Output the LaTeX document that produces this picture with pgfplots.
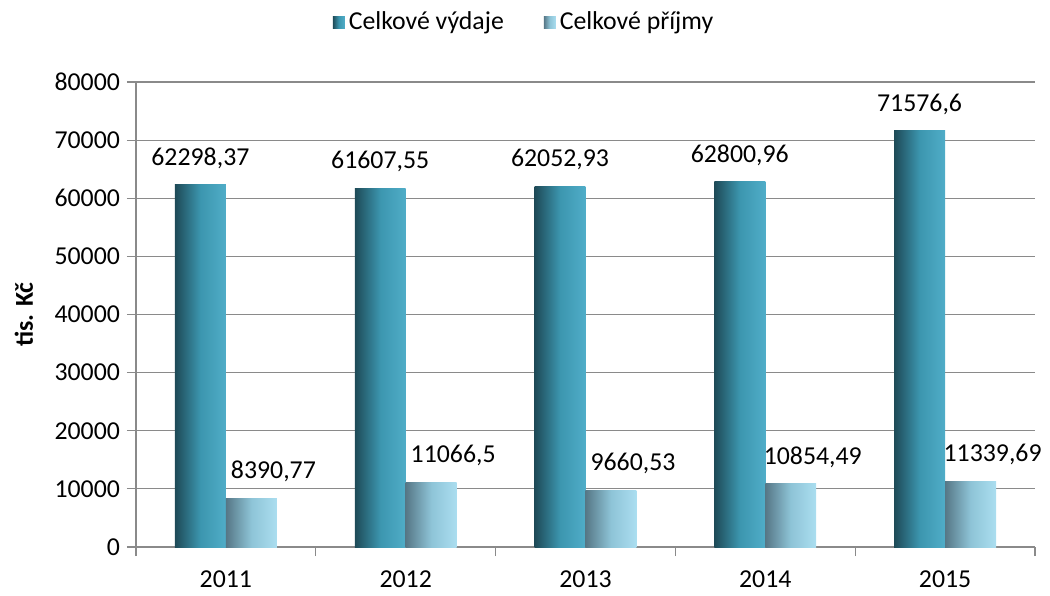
\documentclass[border=0pt]{standalone}
\usepackage{fontspec}
\setmainfont{Carlito}
\usepackage{pgfplots}
\pgfplotsset{compat=1.18}

\definecolor{vydD}{HTML}{1E4A57}
\definecolor{vydM}{HTML}{3C96AF}
\definecolor{vydL}{HTML}{50ADC8}
\definecolor{prD}{HTML}{567786}
\definecolor{prM}{HTML}{8EC4D7}
\definecolor{prL}{HTML}{ABDEF0}
\definecolor{gridgray}{HTML}{8A8A8A}

% each bar is its own plot so that the cylinder shading is per bar
\pgfplotsset{
  sqlegend/.style={legend image code/.code={\path[##1] (0pt,-0.3em) rectangle (0.6em,0.3em);}},
  vyd/.style={ybar, bar shift=-0.14165, draw=none, left color=vydD, right color=vydL, middle color=vydM, sqlegend,
    nodes near coords style={xshift=-12.75pt}},
  pri/.style={ybar, bar shift=0.14165, draw=none, left color=prD, right color=prL, middle color=prM, sqlegend,
    nodes near coords style={xshift=23.75pt}},
}

\begin{document}
\begin{tikzpicture}[font=\fontsize{12.9}{15}\selectfont]
\useasboundingbox (-68pt,-24pt) rectangle (457pt,273.5pt);
\begin{axis}[
  at={(0,0)}, anchor=south west,
  scale only axis,
  width=449.5pt, height=232.5pt,
  bar width=0.2833,
  xmin=-0.5, xmax=4.5,
  ymin=0, ymax=80000,
  ytick={0,10000,...,80000},
  scaled y ticks=false,
  /pgf/number format/1000 sep={},
  /pgf/number format/assume math mode=true,
  xtick={-0.5,0.5,...,4.5},
  xticklabels={},
  extra x ticks={0,1,2,3,4},
  extra x tick labels={2011,2012,2013,2014,2015},
  extra x tick style={major tick length=0pt},
  tick align=outside,
  major tick length=4.5pt,
  tick style={draw=gridgray, line width=0.6pt},
  ymajorgrids,
  grid style={draw=gridgray, line width=0.6pt},
  axis x line*=bottom, axis y line*=left,
  axis line style={draw=gridgray, line width=0.6pt, -},
  xticklabel style={yshift=-8.5pt},
  ylabel={\bfseries tis. Kč},
  every axis y label/.style={at={(axis description cs:-0.1246,0.5)}, rotate=90, anchor=center},
  point meta=explicit symbolic,
  nodes near coords,
  nodes near coords style={anchor=center, yshift=13.5pt, text=black},
  legend style={at={(rel axis cs:0.4327,1.129)}, anchor=center, draw=none, fill=none,
    legend columns=2, /tikz/every even column/.append style={column sep=18pt}},
]
\addplot[vyd] coordinates {(0,62298.37) [62298,37]};
\addplot[pri] coordinates {(0,8390.77) [8390,77]};
\addplot[vyd, forget plot] coordinates {(1,61607.55) [61607,55]};
\addplot[vyd, forget plot] coordinates {(2,62052.93) [62052,93]};
\addplot[vyd, forget plot] coordinates {(3,62800.96) [62800,96]};
\addplot[vyd, forget plot] coordinates {(4,71576.6) [71576,6]};
\addplot[pri, forget plot] coordinates {(1,11066.5) [11066,5]};
\addplot[pri, forget plot] coordinates {(2,9660.53) [9660,53]};
\addplot[pri, forget plot] coordinates {(3,10854.49) [10854,49]};
\addplot[pri, forget plot] coordinates {(4,11339.69) [11339,69]};
\legend{Celkové výdaje, Celkové příjmy}
\end{axis}
\end{tikzpicture}
\end{document}
